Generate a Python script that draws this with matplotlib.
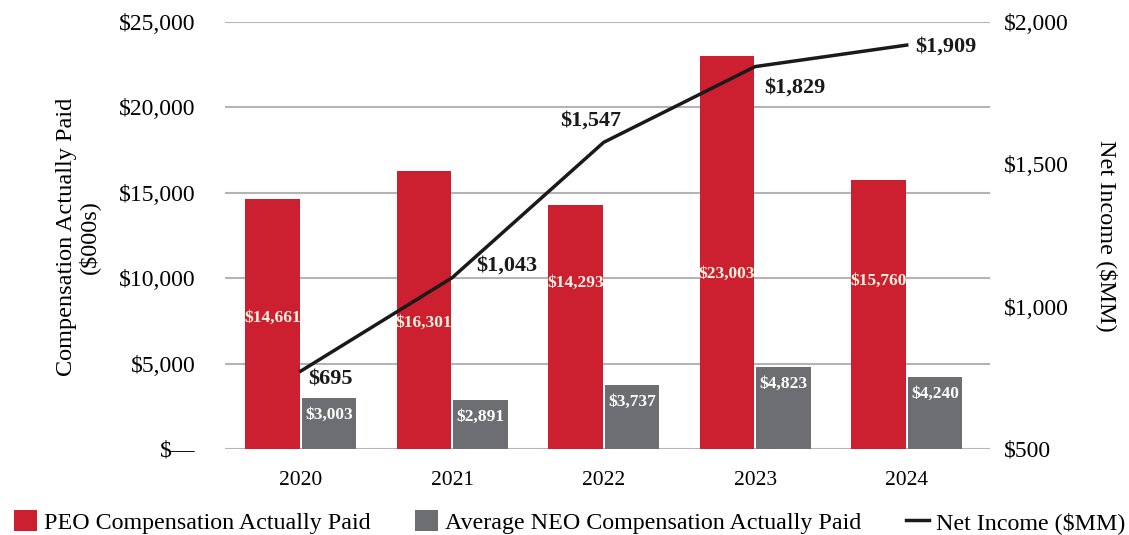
import matplotlib.pyplot as plt
import numpy as np
from matplotlib.ticker import FuncFormatter

plt.rcParams['font.family'] = ['Liberation Serif', 'DejaVu Serif']

years = ['2020', '2021', '2022', '2023', '2024']
peo_cap = [14661, 16301, 14293, 23003, 15760]
neo_cap = [3003, 2891, 3737, 4823, 4240]
net_income = [695, 1043, 1547, 1829, 1909]

red = '#cc1f2f'
grey = '#6d6e71'

fig = plt.figure(figsize=(11.29, 5.35), dpi=100)
ax = fig.add_axes([225 / 1129, 86 / 535, 765 / 1129, 427 / 535])
ax2 = ax.twinx()   # net income line
ax3 = ax.twinx()   # net income tick labels

x = np.arange(len(years))
w = 0.36

ax.bar(x - 0.187, peo_cap, w, color=red, zorder=3, label='PEO Compensation Actually Paid')
ax.bar(x + 0.187, neo_cap, w, color=grey, zorder=3, label='Average NEO Compensation Actually Paid')

# label heights inside the red bars (as placed in the original)
peo_lab_y = [7670, 7380, 9720, 10250, 9840]
for i, v in enumerate(peo_cap):
    ax.text(x[i] - 0.187, peo_lab_y[i], '${:,}'.format(v), color='#fff4e2',
            ha='center', va='center', fontsize=12.5, fontweight='bold', zorder=4)
for i, v in enumerate(neo_cap):
    ax.text(x[i] + 0.187, v - 1000, '${:,}'.format(v), color='white',
            ha='center', va='center', fontsize=12.5, fontweight='bold', zorder=4)

ax.set_ylim(0, 25000)
ax.set_yticks(np.arange(0, 25001, 5000))
ax.yaxis.set_major_formatter(FuncFormatter(lambda v, p: '$\u2014' if v == 0 else '${:,.0f}'.format(v)))
ax.grid(axis='y', color='#b4b4b4', linewidth=1.5, zorder=0)
ax.set_axisbelow(True)
ax.set_xlim(-0.5, 4.55)
ax.set_xticks(x)
ax.set_xticklabels(years)
ax.tick_params(axis='x', length=0, labelsize=15.5, pad=16)
ax.tick_params(axis='y', length=0, labelsize=17, pad=21)
for a in (ax, ax2, ax3):
    for s in a.spines.values():
        s.set_visible(False)

# the original draws the line on a slightly different scale than its tick labels
ax2.plot(x, net_income, color='#1a1a1a', linewidth=2.5, zorder=5, label='Net Income ($MM)')
ax2.set_ylim(405, 1995)
ax2.set_yticks([])

ax3.set_ylim(500, 2000)
ax3.set_yticks([500, 1000, 1500, 2000])
ax3.yaxis.set_major_formatter(FuncFormatter(lambda v, p: '${:,.0f}'.format(v)))
ax3.tick_params(length=0, labelsize=17, pad=10)

offs = [(30, -8), (55, 12), (-13, 22), (40, -21), (39, -1)]
for i, v in enumerate(net_income):
    ax2.annotate('${:,}'.format(v), (x[i], v), xytext=offs[i], textcoords='offset pixels',
                 fontsize=16, fontweight='bold', color='#1a1a1a',
                 ha='center', va='center', zorder=6)

fig.text(78 / 1129, 1 - 237 / 535, 'Compensation Actually Paid\n($000s)', rotation=90,
         fontsize=17.5, ha='center', va='center', multialignment='center', linespacing=1.05)
fig.text(1107 / 1129, 1 - 236 / 535, 'Net Income ($MM)', rotation=270,
         fontsize=17.5, ha='center', va='center')

h1, l1 = ax.get_legend_handles_labels()
h2, l2 = ax2.get_legend_handles_labels()
fig.legend(h1 + h2, l1 + l2, loc='center', bbox_to_anchor=(0.5044, 1 - 522 / 535), ncol=3,
           frameon=False, fontsize=17.3, handlelength=0.95, handleheight=0.95,
           columnspacing=1.85, handletextpad=0.3, borderaxespad=0, borderpad=0)

fig.savefig('out.png', dpi=100)
